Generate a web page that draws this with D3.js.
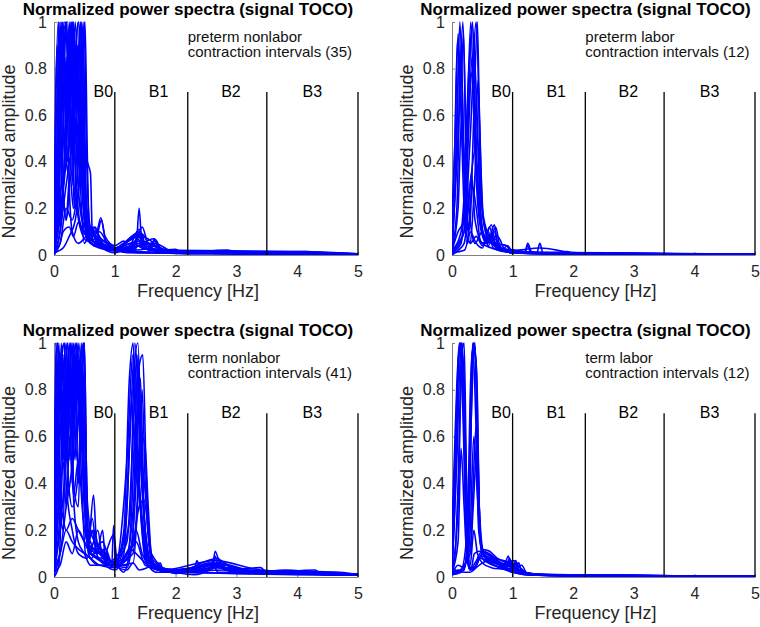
<!DOCTYPE html>
<html>
<head>
<meta charset="utf-8">
<script src="https://cdn.jsdelivr.net/npm/d3@7"></script>
<style>
  body { margin: 0; background: #fff; }
  svg { font-family: "Liberation Sans", Arial, sans-serif; display: block; }
  .tick text { fill: #262626; font-size: 16px; }
  .domain, .tick line { stroke: #808080; }
</style>
</head>
<body>
<svg width="760" height="627"></svg>
<script>
// axis ticks and band definitions
const freqTicks = [0, 1, 2, 3, 4, 5];
const ampTicks = [0, 0.2, 0.4, 0.6, 0.8, 1];
const bandEdges = [1, 2.2, 3.5, 5];
const bandLabels = ["B0", "B1", "B2", "B3"];
const bandLabelFreq = [0.81, 1.72, 2.91, 4.25];
const titleText = "Normalized power spectra (signal TOCO)";
const groupNames = ["preterm nonlabor", "preterm labor", "term nonlabor", "term labor"];
const groupCounts = [35, 12, 41, 12];

// spectra, each one a list of [frequency Hz, amplitude]
const pretermNonlabor = [
  [[0,0.01],[0.05,0.4],[0.1,1],[0.15,0.6],[0.2,0.85],[0.25,0.3],[0.3,0.1],[0.4,0.05],[0.55,0.08],[0.65,0.06],[0.8,0.03],[1,0.02],[1.2,0.01],[1.6,0.01],[2.2,0.005],[3,0.006],[4,0.004],[5,0.003]],
  [[0,0.02],[0.08,0.2],[0.15,1],[0.2,0.5],[0.28,0.9],[0.35,0.4],[0.42,0.15],[0.5,0.1],[0.6,0.12],[0.7,0.08],[0.78,0.15],[0.85,0.06],[1,0.03],[1.3,0.02],[1.35,0.03],[1.4,0.2],[1.45,0.03],[1.7,0.02],[2,0.025],[2.1,0.01],[3,0.01],[4,0.008],[5,0.005]],
  [[0,0],[0.1,0.1],[0.2,0.6],[0.25,1],[0.3,0.7],[0.35,1],[0.42,0.5],[0.5,0.15],[0.58,0.1],[0.7,0.04],[1,0.02],[1.15,0.05],[1.25,0.02],[1.6,0.03],[1.65,0.07],[1.75,0.02],[2.5,0.01],[3,0.008],[4,0.01],[5,0.004]],
  [[0,0.03],[0.05,0.5],[0.08,1],[0.12,0.3],[0.18,0.8],[0.22,0.4],[0.3,0.6],[0.38,0.2],[0.45,0.1],[0.55,0.06],[0.7,0.1],[0.8,0.05],[1,0.03],[1.3,0.04],[1.4,0.1],[1.5,0.04],[2,0.01],[2.85,0.02],[3,0.01],[4.15,0.015],[4.4,0.01],[5,0.005]],
  [[0,0.01],[0.15,0.3],[0.3,1],[0.38,0.7],[0.45,1],[0.5,0.5],[0.55,0.4],[0.6,0.35],[0.63,0.1],[0.75,0.05],[1,0.02],[1.35,0.06],[1.45,0.12],[1.55,0.05],[2,0.015],[3,0.01],[4,0.006],[5,0.004]],
  [[0,0.02],[0.1,0.5],[0.2,1],[0.25,0.8],[0.32,1],[0.4,0.6],[0.48,1],[0.52,0.3],[0.56,0.12],[0.65,0.1],[0.72,0.05],[0.9,0.04],[1,0.03],[1.4,0.08],[1.6,0.06],[1.7,0.03],[2,0.01],[3,0.008],[4,0.008],[5,0.004]],
  [[0,0.05],[0.05,0.9],[0.1,0.6],[0.15,0.95],[0.22,1],[0.3,0.3],[0.36,0.9],[0.42,0.4],[0.5,0.05],[0.6,0.1],[0.7,0.07],[0.85,0.04],[1,0.02],[1.4,0.01],[2,0.01],[3,0.006],[5,0.003]],
  [[0,0.02],[0.1,0.15],[0.2,0.4],[0.3,0.6],[0.4,1],[0.46,0.7],[0.5,0.3],[0.55,0.1],[0.62,0.12],[0.7,0.06],[1,0.02],[1.1,0.04],[1.2,0.02],[1.4,0.11],[1.55,0.02],[1.65,0.06],[1.75,0.02],[2.85,0.015],[3.2,0.01],[4.2,0.012],[5,0.004]],
  [[0,0.01],[0.1,0.05],[0.2,0.2],[0.3,0.15],[0.4,0.25],[0.5,0.1],[0.6,0.05],[0.8,0.03],[1,0.02],[1.5,0.01],[2,0.008],[5,0.003]],
  [[0,0.01],[0.08,0.3],[0.12,1],[0.17,0.5],[0.27,0.95],[0.33,0.5],[0.42,0.8],[0.5,0.2],[0.6,0.05],[0.7,0.08],[0.8,0.03],[1,0.01],[1.4,0.05],[2,0.015],[3,0.008],[5,0.004]],
  [[0,0.01],[0.15,0.03],[0.25,0.08],[0.35,0.15],[0.45,0.5],[0.5,1],[0.53,0.5],[0.58,0.15],[0.65,0.06],[0.8,0.04],[1,0.03],[1.45,0.09],[1.6,0.03],[2,0.01],[2.5,0.008],[5,0.004]],
  [[0,0.02],[0.05,0.2],[0.1,0.7],[0.18,1],[0.25,0.7],[0.35,0.5],[0.43,1],[0.48,0.6],[0.55,0.12],[0.62,0.08],[0.75,0.1],[0.9,0.04],[1,0.03],[1.6,0.05],[1.67,0.065],[1.75,0.03],[2,0.01],[5,0.004]],
  [[0,0],[0.1,0.1],[0.2,0.3],[0.3,0.45],[0.35,0.2],[0.45,0.35],[0.55,0.08],[0.7,0.05],[1,0.03],[1.4,0.06],[2,0.01],[5,0.004]],
  [[0,0.02],[0.1,0.4],[0.2,0.15],[0.33,0.7],[0.4,1],[0.47,0.4],[0.55,0.1],[0.65,0.04],[1,0.02],[1.3,0.03],[1.4,0.08],[1.5,0.03],[2,0.01],[3,0.005],[5,0.003]],
  [[0,0.03],[0.06,0.7],[0.1,0.5],[0.14,1],[0.19,0.6],[0.24,0.95],[0.29,0.5],[0.34,0.8],[0.4,0.3],[0.46,0.15],[0.52,0.12],[0.6,0.09],[0.68,0.12],[0.76,0.05],[1,0.03],[1.2,0.02],[1.38,0.07],[1.45,0.03],[2,0.01],[2.85,0.02],[3.1,0.008],[5,0.004]],
  [[0,0.01],[0.04,0.2],[0.09,0.8],[0.13,0.4],[0.2,1],[0.26,0.5],[0.31,1],[0.37,0.6],[0.44,1],[0.5,0.45],[0.54,0.2],[0.6,0.12],[0.7,0.1],[0.77,0.16],[0.84,0.08],[1,0.04],[1.15,0.06],[1.2,0.02],[1.65,0.07],[1.72,0.02],[2,0.02],[4.1,0.015],[5,0.005]],
  [[0,0.02],[0.1,0.2],[0.16,0.5],[0.23,0.35],[0.29,1],[0.34,0.6],[0.39,0.9],[0.45,0.4],[0.5,0.2],[0.57,0.1],[0.65,0.12],[0.74,0.08],[0.9,0.05],[1,0.03],[1.42,0.1],[1.5,0.04],[2,0.015],[2.8,0.015],[5,0.004]],
  [[0,0.01],[0.05,0.1],[0.12,0.3],[0.2,0.15],[0.26,0.35],[0.32,0.2],[0.4,0.4],[0.47,0.9],[0.51,1],[0.55,0.4],[0.58,0.1],[0.65,0.08],[0.8,0.06],[1,0.03],[1.3,0.05],[1.45,0.03],[2,0.01],[5,0.003]],
  [[0,0.04],[0.07,1],[0.11,0.8],[0.16,0.3],[0.21,0.7],[0.27,1],[0.33,0.2],[0.38,0.5],[0.44,0.7],[0.49,0.2],[0.55,0.07],[0.63,0.1],[0.72,0.04],[1,0.02],[1.38,0.09],[1.48,0.03],[2,0.01],[5,0.003]],
  [[0,0],[0.1,0.05],[0.15,0.1],[0.25,0.12],[0.32,0.08],[0.4,0.14],[0.5,0.09],[0.6,0.11],[0.7,0.06],[0.8,0.03],[1,0.02],[2,0.01],[5,0.003]],
  [[0,0.01],[0.08,0.6],[0.13,0.9],[0.18,0.4],[0.23,0.6],[0.3,0.8],[0.38,0.4],[0.43,0.6],[0.5,0.15],[0.58,0.06],[0.7,0.04],[1,0.02],[1.65,0.05],[2,0.01],[5,0.003]]
];

const pretermLabor = [
  [[0,0.15],[0.05,0.5],[0.1,0.95],[0.15,0.6],[0.2,0.2],[0.25,0.05],[0.3,0.1],[0.4,0.05],[0.5,0.03],[0.6,0.1],[0.68,0.03],[0.8,0.02],[1,0.01],[1.5,0.005],[3,0.003],[5,0.002]],
  [[0,0.02],[0.07,0.4],[0.13,1],[0.18,0.6],[0.23,0.1],[0.3,0.05],[0.4,0.08],[0.5,0.04],[0.65,0.13],[0.72,0.05],[0.9,0.04],[1,0.01],[1.2,0.01],[1.25,0.05],[1.32,0.01],[2,0.005],[5,0.002]],
  [[0,0.01],[0.1,0.5],[0.18,1],[0.24,0.4],[0.3,0.15],[0.38,0.05],[0.5,0.1],[0.6,0.04],[0.72,0.12],[0.8,0.03],[1,0.02],[1.4,0.01],[1.45,0.05],[1.5,0.01],[2,0.005],[5,0.003]],
  [[0,0.01],[0.15,0.05],[0.22,0.3],[0.31,1],[0.37,0.5],[0.45,0.15],[0.55,0.06],[0.65,0.08],[0.75,0.03],[1,0.01],[1.85,0.01],[1.9,0.015],[2,0.005],[5,0.003]],
  [[0,0.02],[0.15,0.1],[0.25,0.5],[0.33,0.98],[0.4,0.7],[0.47,0.2],[0.55,0.05],[0.7,0.1],[0.78,0.03],[1,0.02],[1.2,0.01],[1.25,0.04],[1.3,0.01],[2,0.005],[5,0.002]],
  [[0,0.01],[0.2,0.1],[0.3,0.5],[0.4,1],[0.46,0.5],[0.52,0.15],[0.6,0.08],[0.7,0.05],[0.9,0.04],[1,0.02],[1.45,0.03],[2,0.01],[3,0.003],[5,0.002]],
  [[0,0.03],[0.05,0.3],[0.12,0.85],[0.17,0.5],[0.22,0.3],[0.28,0.65],[0.35,0.8],[0.42,0.35],[0.5,0.1],[0.6,0.06],[0.75,0.04],[1,0.01],[1.5,0.005],[5,0.002]],
  [[0,0.01],[0.1,0.05],[0.2,0.1],[0.3,0.3],[0.38,0.45],[0.45,0.2],[0.55,0.08],[0.62,0.12],[0.7,0.04],[1,0.01],[5,0.002]],
  [[0,0.02],[0.1,0.2],[0.16,0.6],[0.22,0.25],[0.3,0.05],[0.35,0.2],[0.42,0.5],[0.48,0.15],[0.58,0.05],[0.7,0.07],[0.85,0.02],[1,0.01],[1.8,0.01],[5,0.002]],
  [[0,0],[0.1,0.02],[0.2,0.05],[0.27,0.2],[0.32,0.35],[0.38,0.15],[0.5,0.05],[0.65,0.03],[1,0.01],[5,0.002]],
  [[0,0.02],[0.08,0.2],[0.15,0.9],[0.2,0.4],[0.28,0.8],[0.34,1],[0.4,0.4],[0.5,0.1],[0.6,0.07],[0.75,0.08],[0.88,0.02],[1,0.01],[2,0.005],[5,0.002]],
  [[0,0.01],[0.2,0.02],[0.3,0.15],[0.36,0.6],[0.42,1],[0.47,0.3],[0.55,0.1],[0.65,0.05],[0.8,0.03],[1,0.01],[2,0.005],[5,0.002]],
  [[0,0.1],[0.04,0.4],[0.09,0.92],[0.14,0.7],[0.19,0.95],[0.23,0.4],[0.27,0.1],[0.33,0.3],[0.4,0.2],[0.48,0.05],[0.6,0.06],[0.7,0.13],[0.76,0.03],[1,0.02],[1.5,0.01],[5,0.002]],
  [[0,0.02],[0.1,0.1],[0.2,0.15],[0.27,0.5],[0.33,0.85],[0.38,0.5],[0.43,0.75],[0.5,0.2],[0.58,0.1],[0.65,0.06],[0.8,0.02],[0.92,0.04],[1,0.01],[2,0.005],[5,0.002]]
];

const termNonlabor = [
  [[0,0.05],[0.03,0.9],[0.06,1],[0.1,0.7],[0.15,0.95],[0.2,0.4],[0.3,0.2],[0.4,0.1],[0.55,0.08],[0.65,0.35],[0.7,0.15],[0.8,0.1],[1,0.05],[1.2,0.03],[1.3,0.06],[1.4,0.03],[1.75,0.06],[1.8,0.02],[2.3,0.02],[2.35,0.07],[2.42,0.02],[3,0.015],[4,0.01],[5,0.008]],
  [[0,0.02],[0.1,0.4],[0.2,1],[0.26,0.5],[0.32,1],[0.38,0.6],[0.45,1],[0.5,0.4],[0.55,0.15],[0.7,0.1],[0.8,0.2],[0.85,0.05],[1,0.03],[1.15,0.1],[1.25,0.6],[1.33,1],[1.4,0.7],[1.5,0.2],[1.6,0.05],[2,0.02],[2.6,0.03],[2.65,0.11],[2.75,0.04],[3,0.02],[4,0.015],[5,0.01]],
  [[0,0.01],[0.05,0.3],[0.12,1],[0.18,0.6],[0.25,0.9],[0.33,0.3],[0.4,0.15],[0.5,0.1],[0.6,0.05],[0.8,0.05],[0.95,0.05],[0.98,0.22],[1.02,0.05],[1.2,0.04],[1.3,0.2],[1.38,0.95],[1.45,0.5],[1.52,0.33],[1.6,0.1],[1.7,0.03],[2,0.02],[2.7,0.08],[2.8,0.03],[3.4,0.04],[3.5,0.02],[4.3,0.03],[4.4,0.01],[5,0.008]],
  [[0,0.03],[0.05,0.8],[0.08,1],[0.14,0.5],[0.22,1],[0.28,0.8],[0.35,1],[0.42,0.7],[0.5,1],[0.54,0.3],[0.6,0.1],[0.7,0.08],[0.9,0.05],[1.1,0.06],[1.25,0.1],[1.35,0.4],[1.42,0.85],[1.48,0.3],[1.55,0.05],[1.8,0.03],[2,0.015],[2.6,0.06],[2.7,0.02],[3,0.02],[3.8,0.02],[5,0.008]],
  [[0,0.01],[0.1,0.1],[0.2,0.3],[0.3,0.5],[0.38,1],[0.45,0.6],[0.5,0.9],[0.53,0.2],[0.6,0.15],[0.65,0.12],[0.75,0.1],[1,0.04],[1.2,0.5],[1.3,0.95],[1.36,0.6],[1.45,0.2],[1.55,0.05],[2,0.02],[2.3,0.01],[2.55,0.03],[2.65,0.08],[2.9,0.04],[3,0.015],[4,0.02],[5,0.01]],
  [[0,0.01],[0.03,1],[0.07,0.6],[0.15,0.3],[0.25,1],[0.3,0.7],[0.4,0.95],[0.48,0.5],[0.52,0.2],[0.6,0.08],[0.75,0.05],[1,0.05],[1.3,0.06],[1.4,0.45],[1.45,0.8],[1.5,0.4],[1.6,0.08],[2,0.02],[2.35,0.02],[2.75,0.06],[3,0.03],[4.7,0.02],[5,0.01]],
  [[0,0.02],[0.1,0.9],[0.17,1],[0.24,0.4],[0.3,0.3],[0.4,0.45],[0.48,1],[0.53,0.5],[0.58,0.1],[0.65,0.15],[0.72,0.2],[0.8,0.08],[1,0.06],[1.15,0.02],[1.25,0.1],[1.35,0.2],[1.45,0.1],[1.7,0.02],[2.2,0.02],[2.5,0.03],[2.8,0.05],[3.3,0.02],[3.8,0.03],[4.3,0.02],[5,0.01]],
  [[0,0.02],[0.1,0.05],[0.2,0.15],[0.3,0.1],[0.4,0.2],[0.5,0.15],[0.6,0.1],[0.8,0.07],[1,0.04],[1.2,0.08],[1.35,0.15],[1.5,0.05],[2,0.02],[3,0.015],[5,0.008]],
  [[0,0.05],[0.05,0.6],[0.1,0.3],[0.15,0.2],[0.2,0.8],[0.27,1],[0.32,0.4],[0.4,0.3],[0.45,0.8],[0.5,1],[0.55,0.2],[0.62,0.1],[0.8,0.08],[0.98,0.18],[1.05,0.05],[1.2,0.05],[1.28,0.3],[1.35,0.7],[1.42,0.3],[1.5,0.08],[1.8,0.03],[2.65,0.07],[3.4,0.03],[5,0.01]],
  [[0,0.02],[0.1,0.2],[0.2,0.5],[0.3,0.8],[0.35,0.6],[0.42,0.7],[0.5,0.3],[0.6,0.18],[0.66,0.2],[0.75,0.1],[1,0.05],[1.3,0.1],[1.45,0.6],[1.5,0.55],[1.55,0.3],[1.62,0.05],[2,0.03],[2.7,0.05],[3,0.02],[5,0.01]],
  [[0,0],[0.08,0.05],[0.15,0.6],[0.22,1],[0.3,0.4],[0.37,1],[0.44,0.5],[0.52,0.1],[0.62,0.08],[0.7,0.12],[0.85,0.1],[1,0.05],[1.25,0.25],[1.32,0.9],[1.38,1],[1.45,0.4],[1.55,0.1],[1.65,0.04],[2,0.03],[2.6,0.04],[2.65,0.09],[2.7,0.04],[3.5,0.02],[4.1,0.02],[5,0.01]],
  [[0,0.03],[0.1,0.3],[0.2,0.2],[0.3,0.25],[0.4,0.2],[0.5,0.15],[0.6,0.1],[0.7,0.08],[0.9,0.06],[1,0.08],[1.15,0.15],[1.3,0.8],[1.4,0.4],[1.5,0.15],[1.6,0.05],[2,0.02],[2.8,0.03],[5,0.008]],
  [[0,0.04],[0.04,0.95],[0.08,0.5],[0.12,0.9],[0.17,1],[0.21,0.5],[0.28,1],[0.34,0.7],[0.41,1],[0.47,0.6],[0.52,0.3],[0.57,0.15],[0.63,0.2],[0.7,0.1],[0.85,0.12],[0.95,0.06],[1.05,0.08],[1.2,0.15],[1.3,0.6],[1.36,0.95],[1.42,0.5],[1.5,0.2],[1.6,0.06],[2,0.03],[2.45,0.05],[2.7,0.06],[3.2,0.03],[3.9,0.02],[5,0.01]],
  [[0,0.02],[0.07,0.3],[0.13,0.8],[0.2,0.6],[0.27,0.9],[0.33,0.5],[0.39,0.8],[0.45,0.9],[0.51,0.6],[0.55,0.15],[0.65,0.12],[0.78,0.1],[0.9,0.07],[1,0.06],[1.1,0.1],[1.2,0.3],[1.28,0.75],[1.34,0.5],[1.42,0.3],[1.5,0.1],[1.6,0.04],[2,0.02],[2.3,0.04],[2.55,0.06],[3,0.03],[4.3,0.02],[5,0.01]],
  [[0,0.01],[0.05,0.4],[0.09,0.95],[0.14,0.7],[0.2,0.5],[0.25,0.8],[0.3,1],[0.36,0.5],[0.43,0.9],[0.49,1],[0.53,0.4],[0.6,0.2],[0.67,0.15],[0.78,0.12],[0.88,0.08],[1,0.06],[1.2,0.1],[1.35,0.5],[1.4,0.9],[1.46,0.95],[1.52,0.4],[1.6,0.1],[1.9,0.03],[2.7,0.05],[2.9,0.03],[3.6,0.02],[5,0.01]],
  [[0,0.03],[0.1,0.1],[0.2,0.2],[0.3,0.15],[0.4,0.12],[0.5,0.1],[0.6,0.08],[0.75,0.05],[1,0.04],[1.1,0.06],[1.25,0.12],[1.35,0.1],[1.5,0.06],[1.7,0.03],[2,0.02],[2.6,0.05],[3,0.02],[5,0.01]],
  [[0,0.02],[0.05,1],[0.1,0.8],[0.16,0.5],[0.22,0.9],[0.28,0.6],[0.34,0.95],[0.4,0.4],[0.46,0.7],[0.52,0.5],[0.56,0.1],[0.66,0.12],[0.8,0.15],[0.9,0.08],[1,0.05],[1.15,0.2],[1.24,0.85],[1.3,1],[1.36,0.55],[1.44,0.25],[1.55,0.08],[1.75,0.04],[2,0.03],[2.35,0.03],[2.65,0.06],[3.3,0.02],[4,0.02],[5,0.01]],
  [[0,0.01],[0.08,0.2],[0.15,0.5],[0.2,0.3],[0.26,0.6],[0.32,0.35],[0.4,0.5],[0.48,0.25],[0.55,0.15],[0.63,0.25],[0.7,0.1],[0.8,0.06],[1,0.05],[1.3,0.15],[1.4,0.3],[1.48,0.33],[1.55,0.2],[1.62,0.04],[2,0.02],[2.75,0.04],[3.4,0.02],[5,0.008]]
];

const termLabor = [
  [[0,0.2],[0.05,0.6],[0.12,1],[0.18,0.7],[0.23,0.2],[0.28,0.05],[0.35,0.03],[0.45,0.08],[0.6,0.07],[0.8,0.05],[1,0.03],[1.2,0.01],[2,0.005],[5,0.003]],
  [[0,0.03],[0.08,0.5],[0.15,1],[0.2,0.6],[0.25,0.1],[0.3,0.03],[0.4,0.05],[0.5,0.1],[0.6,0.08],[0.7,0.07],[0.85,0.04],[0.93,0.09],[0.98,0.03],[1.05,0.07],[1.1,0.03],[1.3,0.01],[2,0.005],[5,0.003]],
  [[0,0.01],[0.1,0.3],[0.17,1],[0.22,0.5],[0.27,0.05],[0.3,0.03],[0.38,0.06],[0.5,0.11],[0.65,0.09],[0.8,0.06],[1,0.05],[1.1,0.06],[1.15,0.02],[1.5,0.01],[3,0.005],[5,0.003]],
  [[0,0.02],[0.2,0.03],[0.27,0.3],[0.33,0.95],[0.38,1],[0.43,0.4],[0.48,0.12],[0.6,0.1],[0.75,0.07],[0.9,0.05],[1.02,0.07],[1.08,0.03],[1.3,0.01],[2,0.005],[5,0.002]],
  [[0,0.04],[0.15,0.02],[0.25,0.1],[0.32,0.7],[0.37,1],[0.42,0.6],[0.47,0.15],[0.55,0.09],[0.7,0.06],[0.85,0.05],[1,0.04],[1.2,0.015],[2,0.005],[5,0.002]],
  [[0,0.01],[0.1,0.05],[0.2,0.04],[0.28,0.2],[0.35,1],[0.4,0.9],[0.45,0.3],[0.5,0.1],[0.65,0.08],[0.8,0.06],[0.95,0.03],[1.15,0.05],[1.25,0.01],[2,0.005],[3.5,0.005],[5,0.002]],
  [[0,0.15],[0.05,0.5],[0.1,0.9],[0.14,1],[0.2,0.8],[0.25,0.3],[0.3,0.1],[0.35,0.3],[0.4,0.5],[0.45,0.2],[0.55,0.08],[0.7,0.05],[0.9,0.03],[1.2,0.01],[5,0.002]],
  [[0,0.02],[0.1,0.15],[0.15,0.55],[0.2,0.3],[0.25,0.08],[0.3,0.2],[0.36,0.6],[0.42,0.35],[0.5,0.08],[0.6,0.06],[0.8,0.04],[1,0.02],[1.3,0.01],[5,0.002]],
  [[0,0.01],[0.1,0.02],[0.2,0.05],[0.3,0.1],[0.35,0.4],[0.4,0.65],[0.45,0.3],[0.52,0.1],[0.7,0.05],[1,0.03],[1.5,0.01],[5,0.002]],
  [[0,0.05],[0.05,0.1],[0.1,0.4],[0.16,0.95],[0.2,1],[0.24,0.4],[0.3,0.05],[0.36,0.2],[0.42,0.1],[0.5,0.06],[0.65,0.04],[0.9,0.03],[1,0.02],[1.5,0.01],[5,0.002]],
  [[0,0.01],[0.15,0.02],[0.22,0.05],[0.3,0.5],[0.34,1],[0.39,0.7],[0.44,0.2],[0.5,0.12],[0.62,0.11],[0.75,0.08],[0.9,0.06],[1.05,0.04],[1.2,0.02],[1.5,0.008],[5,0.002]],
  [[0,0.01],[0.1,0.03],[0.2,0.02],[0.3,0.02],[0.4,0.04],[0.5,0.06],[0.6,0.07],[0.75,0.06],[0.9,0.04],[0.95,0.08],[1,0.04],[1.1,0.06],[1.15,0.02],[1.5,0.01],[2.8,0.006],[5,0.002]],
  [[0,0.03],[0.06,0.4],[0.11,0.95],[0.16,1],[0.21,0.5],[0.26,0.06],[0.31,0.03],[0.37,0.1],[0.45,0.11],[0.55,0.1],[0.68,0.08],[0.82,0.06],[0.95,0.05],[1.08,0.05],[1.2,0.02],[1.6,0.008],[5,0.002]],
  [[0,0.02],[0.15,0.03],[0.25,0.2],[0.31,0.85],[0.36,1],[0.41,0.85],[0.46,0.2],[0.52,0.11],[0.62,0.1],[0.72,0.08],[0.85,0.07],[0.98,0.06],[1.12,0.04],[1.25,0.015],[2,0.006],[5,0.002]],
  [[0,0.02],[0.08,0.7],[0.13,1],[0.19,0.9],[0.24,0.25],[0.3,0.04],[0.38,0.04],[0.48,0.09],[0.58,0.08],[0.7,0.07],[0.8,0.05],[0.97,0.07],[1.05,0.03],[1.3,0.01],[5,0.002]]
];

const groupSpectra = [pretermNonlabor, pretermLabor, termNonlabor, termLabor];

// panel boxes in pixels
const panels = [
  { left: 54, right: 358, top: 22, bottom: 255 },
  { left: 452, right: 755, top: 22, bottom: 255 },
  { left: 54, right: 358, top: 343, bottom: 577 },
  { left: 452, right: 755, top: 343, bottom: 577 },
];

const svg = d3.select("svg");

panels.forEach((p, i) => {
  const x = d3.scaleLinear().domain([0, 5]).range([p.left, p.right]);
  const y = d3.scaleLinear().domain([0, 1]).range([p.bottom, p.top]);
  const g = svg.append("g");

  //Clip
  g.append("clipPath")
    .attr("id", "clip" + i)
    .append("rect")
    .attr("x", p.left)
    .attr("y", p.top - 1)
    .attr("width", p.right - p.left)
    .attr("height", p.bottom - p.top + 1);

  //Axes
  g.append("g")
    .attr("transform", `translate(0,${p.bottom})`)
    .call(d3.axisBottom(x).tickValues(freqTicks).tickFormat(d3.format("d")).tickSizeInner(-3).tickSizeOuter(0).tickPadding(11));
  g.append("g")
    .attr("transform", `translate(${p.left},0)`)
    .call(d3.axisLeft(y).tickValues(ampTicks).tickFormat((d) => d).tickSizeInner(-3).tickSizeOuter(0).tickPadding(7));
  g.selectAll(".tick text").attr("font-family", null).attr("font-size", null);

  //Spectra
  const line = d3
    .line()
    .x((d) => x(d[0]))
    .y((d) => y(d[1]))
    .curve(d3.curveMonotoneX);
  g.append("g")
    .attr("clip-path", `url(#clip${i})`)
    .selectAll("path")
    .data(groupSpectra[i])
    .join("path")
    .attr("d", line)
    .attr("fill", "none")
    .attr("stroke", "#0000ff")
    .attr("stroke-width", 1.6)
    .attr("stroke-linejoin", "round");

  //Band separators
  g.selectAll(".band")
    .data(bandEdges)
    .join("line")
    .attr("class", "band")
    .attr("x1", (d) => x(d))
    .attr("x2", (d) => x(d))
    .attr("y1", y(0))
    .attr("y2", y(0.7))
    .attr("stroke", "#000")
    .attr("stroke-width", 1.3);
  g.selectAll(".band-label")
    .data(bandLabels)
    .join("text")
    .attr("class", "band-label")
    .attr("x", (d, j) => x(bandLabelFreq[j]))
    .attr("y", y(0.68))
    .attr("text-anchor", "middle")
    .attr("font-size", 16)
    .text((d) => d);

  //Group annotation
  const note = g.append("text")
    .attr("font-size", 15)
    .attr("fill", "#111");
  note.append("tspan").attr("x", x(2.2)).attr("y", p.top + 20).text(groupNames[i]);
  note.append("tspan").attr("x", x(2.2)).attr("y", p.top + 35)
    .text(`contraction intervals (${groupCounts[i]})`);

  //Title and axis labels
  const cx = (p.left + p.right) / 2;
  g.append("text")
    .attr("x", cx - 18)
    .attr("y", p.top - 7)
    .attr("text-anchor", "middle")
    .attr("font-size", 17)
    .attr("font-weight", "bold")
    .text(titleText);
  g.append("text")
    .attr("x", cx - 8)
    .attr("y", p.bottom + 42)
    .attr("text-anchor", "middle")
    .attr("font-size", 18)
    .attr("fill", "#262626")
    .text("Frequency [Hz]");
  g.append("text")
    .attr("transform", `translate(${p.left - 39},${(p.top + p.bottom) / 2 + 13}) rotate(-90)`)
    .attr("text-anchor", "middle")
    .attr("font-size", 18)
    .attr("fill", "#262626")
    .text("Normalized amplitude");
});
</script>
</body>
</html>
